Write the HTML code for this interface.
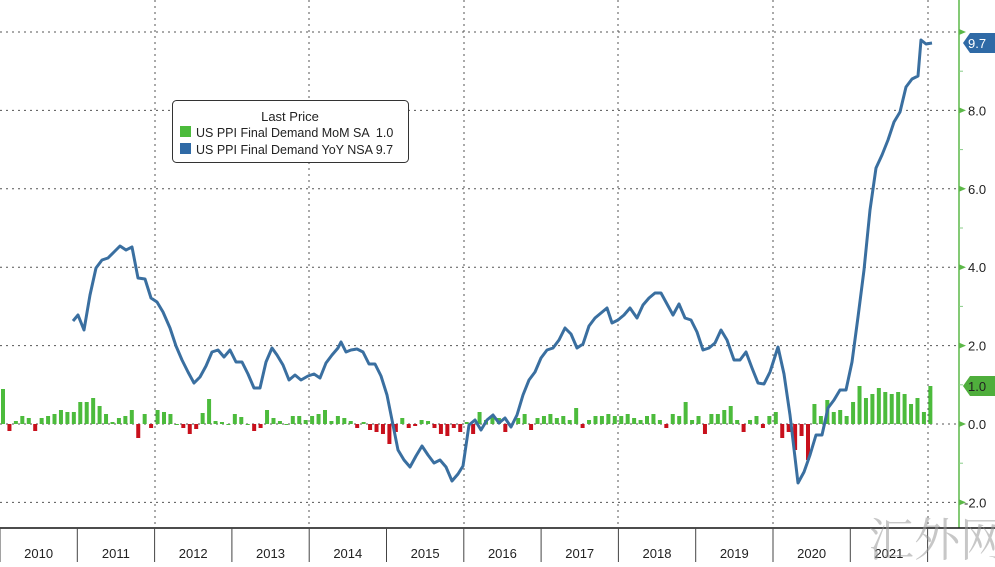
<!DOCTYPE html>
<html><head><meta charset="utf-8"><style>
html,body{margin:0;padding:0;background:#fff;}
body{width:995px;height:562px;overflow:hidden;font-family:"Liberation Sans","Noto Sans CJK SC",sans-serif;}
</style></head><body>
<svg id="c" width="995" height="562" xmlns="http://www.w3.org/2000/svg" font-family="Liberation Sans, Noto Sans CJK SC, sans-serif">
<rect width="995" height="562" fill="#fff"/>
<g id="grid" stroke="#555" stroke-width="1" stroke-dasharray="2,4"></g>
<g id="bars"></g>
<polyline id="line" fill="none" stroke="#3a6fa0" stroke-width="3" stroke-linejoin="round"/>
<line x1="959" y1="0" x2="959" y2="528" stroke="#5cb848" stroke-width="1.5"/>
<g id="ax" font-size="13" fill="#222"></g>
<line x1="0" y1="528" x2="995" y2="528" stroke="#111" stroke-width="1.5"/>
<g id="years" font-size="13" fill="#222"></g>
<path d="M963,43 L970,33 L995,33 L995,53 L970,53 Z" fill="#2f6aa6"/>
<text x="968" y="48" font-size="13" fill="#fff">9.7</text>
<path d="M963,386 L970,376 L995,376 L995,396 L970,396 Z" fill="#4fae3c"/>
<text x="968" y="391" font-size="13" fill="#222">1.0</text>
<rect x="172.5" y="100.5" width="236" height="62" rx="4" fill="#fff" stroke="#333"/>
<text x="290" y="121" font-size="13" text-anchor="middle" fill="#222">Last Price</text>
<rect x="180" y="126" width="11" height="11" fill="#4cbb3c"/>
<text x="196" y="137" font-size="12.5" fill="#222" xml:space="preserve">US PPI Final Demand MoM SA  1.0</text>
<rect x="180" y="143" width="11" height="11" fill="#2f6aa6"/>
<text x="196" y="154" font-size="12.5" fill="#222">US PPI Final Demand YoY NSA 9.7</text>
<text x="868" y="556" font-size="46" fill="#999" fill-opacity="0.55" font-family="Noto Serif CJK SC, serif">汇外网</text>
</svg>
<script>
const NS="http://www.w3.org/2000/svg";
function el(p,t,a,txt){const e=document.createElementNS(NS,t);for(const k in a)e.setAttribute(k,a[k]);if(txt!=null)e.textContent=txt;document.getElementById(p).appendChild(e);return e;}
const Y=v=>424-v*39.2;
[10,8,6,4,2,0,-2].forEach(v=>el("grid","line",{x1:0,x2:958,y1:Y(v),y2:Y(v)}));
[155,309,464,618,773,928].forEach(x=>el("grid","line",{x1:x,x2:x,y1:0,y2:528}));
[10,8,6,4,2,0,-2].forEach(v=>{
 el("ax","path",{d:`M959,${Y(v)-3} L966,${Y(v)} L959,${Y(v)+3}Z`,fill:"#5cb848"});
 if(v!==10) el("ax","text",{x:v<0?964:968,y:Y(v)+5},v<0?"-2.0":v.toFixed(1));
});
[9,7,5,3,1,-1].forEach(v=>el("ax","line",{x1:959,x2:963,y1:Y(v),y2:Y(v),stroke:"#8c8"}));
const yrs=[2010,2011,2012,2013,2014,2015,2016,2017,2018,2019,2020,2021];
for(let i=0;i<=12;i++){const x=i*77.3;el("years","line",{x1:x,x2:x,y1:528,y2:562,stroke:"#444"});}
yrs.forEach((y,i)=>el("years","text",{x:i*77.3+38.6,y:558,"text-anchor":"middle"},y));
const h=[35,-7,3,8,6,-7,6,8,10,14,12,12, 22,22,26,18,10,2,6,8,14,-14,10,-4,
14,12,10,0,-4,-10,-5,11,25,3,2,0, 10,7,0,-7,-4,14,6,3,0,8,8,4,
8,10,14,3,8,6,3,-4,2,-6,-8,-10, -20,-8,6,-4,-2,4,3,-4,-10,-12,-4,-8,
2,-10,12,4,8,6,-8,0,6,10,-6,6, 8,10,6,8,4,16,-4,4,8,8,10,8,
8,10,6,4,8,10,4,-4,10,8,22,4, 8,-10,10,10,14,18,4,-8,4,8,-4,8,
12,-14,-8,-26,-12,-36,20,8,24,12,14,8, 22,38,26,30,36,32,30,32,30,20,26,12,38];
h.forEach((v,i)=>{const x=1+i*6.44;el("bars","rect",{x:x,y:v>0?424-v:424,width:4,height:Math.max(Math.abs(v),1),fill:v>=0?"#4cbb3c":"#c8101c"});});
const pts="73,321 78,315 84,330 90,295 96,268 102,260 108,258 114,252 120,246 126,250 132,247 138,278 145,279 151,298 157,302 163,312 170,328 176,346 182,360 188,372 194,383 200,377 206,366 212,352 218,350 224,357 230,350 236,362 242,362 248,374 254,388 260,388 266,362 272,348 277,355 283,365 289,380 295,375 301,380 308,376 314,374 320,378 326,363 332,355 338,348 341,342 346,352 351,350 357,349 363,352 369,364 375,364 381,376 387,395 392,420 398,450 404,460 410,467 416,456 422,446 428,455 434,463 440,460 446,467 452,481 458,474 463,466 469,425 475,420 481,430 487,420 493,415 499,423 505,418 511,427 517,415 523,395 529,380 535,372 541,358 547,350 553,348 559,340 565,328 571,334 577,348 583,344 589,326 595,318 601,313 607,308 612,323 618,320 624,315 630,308 637,318 643,305 649,298 655,293 661,293 667,304 673,315 679,304 685,318 691,320 697,332 703,350 709,348 715,343 721,330 727,340 734,360 740,360 746,352 752,368 758,383 764,384 770,372 778,347 784,374 790,415 798,483 804,472 810,455 816,435 822,435 828,408 834,400 840,390 846,390 852,362 858,317 864,270 870,210 876,168 882,155 888,140 894,122 900,112 906,87 912,79 918,76 921,40 926,44 932,43";
document.getElementById("line").setAttribute("points",pts);
</script>
</body></html>
